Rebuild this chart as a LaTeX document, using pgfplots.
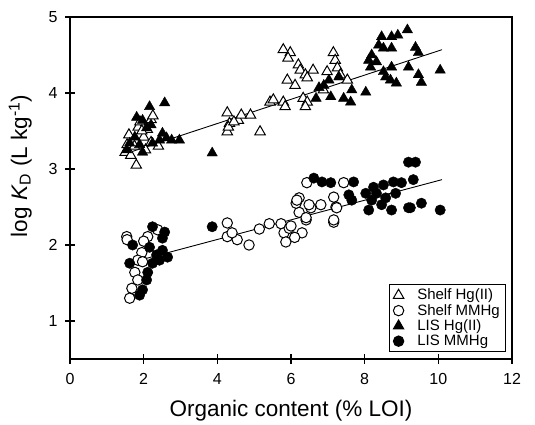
\documentclass[border=0pt]{standalone}
\usepackage{fontspec}
\setmainfont{Liberation Sans}
\usepackage{pgfplots}
\pgfplotsset{compat=1.18}
\begin{document}
\begin{tikzpicture}[x=1pt,y=1pt]
\begin{axis}[
  name=ax,
  scale only axis,
  width=442pt, height=342pt,
  at={(0,0)}, anchor=south west,
  xmin=0, xmax=12, ymin=0.5, ymax=5,
  xtick={0,2,...,12}, ytick={1,2,3,4,5},
  xtick pos=bottom, ytick pos=left,
  tick align=center, major tick length=10pt,
  axis line style={line width=1.2pt},
  every tick/.style={line width=1.2pt, black},
  ticklabel style={font=\fontsize{16}{19}\selectfont},
  xticklabel style={yshift=-6pt},
  yticklabel style={xshift=-4pt},
  /pgf/number format/assume math mode=true,
  xlabel={Organic content (\% LOI)},
  ylabel={log \textit{K}\textsubscript{D} (L kg\textsuperscript{-1})},
  label style={font=\fontsize{22.5}{26}\selectfont},
  xlabel style={yshift=-8pt},
  ylabel style={yshift=10pt, xshift=22pt},
  legend style={at={(rel axis cs:0.986,0.02)}, anchor=south east,
    draw=black, line width=1pt, font=\fontsize{15}{17}\selectfont,
    row sep=0pt, inner xsep=4pt, inner ysep=3pt,
    nodes={inner sep=1.5pt}},
  legend cell align=left,
]
% Shelf Hg(II)
\addplot[only marks, mark=triangle*, mark size=6pt, mark options={fill=white, draw=black, line width=1pt}] coordinates {
(1.5,3.22) (1.55,3.32) (1.6,3.45) (1.75,3.3) (1.8,3.05) (1.85,3.55) (2.0,3.42)
(2.05,3.25) (2.1,3.52) (2.2,3.65) (2.25,3.7) (2.2,3.35) (1.9,3.62) (1.65,3.18)
(2.4,3.3) (1.95,3.5)
(4.27,3.74) (4.33,3.6) (4.27,3.49) (4.57,3.64) (4.65,3.71) (4.9,3.71) (5.16,3.49)
(4.3,3.55) (4.45,3.62)
(5.43,3.88) (5.79,3.88) (5.84,3.82) (5.52,3.91)
(5.79,4.57) (5.98,4.53) (5.92,4.46) (6.2,4.37) (6.25,4.30) (6.39,4.24) (6.6,4.30)
(6.44,4.2) (5.9,4.17) (6.11,4.1) (7.15,4.53) (7.2,4.43) (6.98,4.28) (7.26,4.33)
(7.34,4.24) (7.53,4.17) (6.33,3.93) (6.44,3.88) (6.39,3.82) (6.88,4.04)
};
\addlegendentry{\hspace{12pt}Shelf Hg(II)}
% Shelf MMHg
\addplot[only marks, mark=*, mark size=5.2pt, mark options={fill=white, draw=black, line width=1pt}] coordinates {
(1.54,2.11) (2.11,2.11) (2.38,2.2) (1.95,1.9) (1.84,1.8) (1.76,1.64) (1.84,1.54)
(1.68,1.43) (1.62,1.3) (1.97,1.78) (1.55,2.07) (2.0,2.05)
(4.27,2.29) (4.27,2.11) (4.54,2.07) (4.86,2.0) (4.4,2.16) (5.14,2.21) (5.41,2.28)
(5.73,2.28) (5.81,2.16) (5.86,2.04) (5.95,2.22) (6.3,2.16) (6.41,2.33) (6.22,2.43)
(6.54,2.49) (6.81,2.53) (7.16,2.3) (6.14,2.55) (6.43,2.82) (7.43,2.82) (6.22,2.62)
(6.49,2.53) (7.22,2.5) (6.41,2.36) (7.16,2.33) (6.16,2.59) (7.16,2.63) (7.24,2.49)
(6.0,2.25) (6.1,2.1)
};
\addlegendentry{\hspace{12pt}Shelf MMHg}
% LIS Hg(II)
\addplot[only marks, mark=triangle*, mark size=6pt, mark options={fill=black, draw=black}] coordinates {
(2.57,3.87) (2.16,3.82) (1.81,3.68) (1.97,3.64) (2.2,3.58) (2.08,3.54) (2.51,3.47)
(2.76,3.38) (2.97,3.38) (2.43,3.38) (1.62,3.34) (1.89,3.32) (2.24,3.34) (1.54,3.25)
(1.97,3.22) (1.76,3.42) (2.62,3.41)
(3.86,3.21)
(9.16,4.83) (8.9,4.76) (8.73,4.74) (8.46,4.74) (8.38,4.63) (8.51,4.59) (8.73,4.59)
(9.38,4.6) (9.46,4.53) (8.19,4.5) (8.11,4.43) (8.32,4.41) (8.16,4.34) (8.73,4.34)
(9.19,4.34) (10.05,4.3) (8.51,4.28) (8.57,4.21) (8.7,4.17) (8.86,4.13) (9.46,4.24)
(9.54,4.14) (8.03,4.01)
(7.03,4.17) (6.76,4.07) (6.68,3.93) (7.08,3.95) (7.43,3.93) (7.62,3.88) (7.65,4.04)
(7.3,4.21) (6.89,4.1)
};
\addlegendentry{\hspace{12pt}LIS Hg(II)}
% LIS MMHg
\addplot[only marks, mark=*, mark size=5.2pt, mark options={fill=black, draw=black}] coordinates {
(2.24,2.24) (2.57,2.17) (2.51,2.09) (1.7,2.0) (2.16,1.97) (2.51,1.93) (2.65,1.84)
(2.43,1.8) (2.24,1.76) (1.62,1.76) (2.11,1.64) (2.08,1.54) (1.97,1.41) (1.89,1.34)
(2.35,1.87)
(3.86,2.24)
(6.62,2.88) (6.84,2.83) (7.08,2.82) (7.7,2.83) (9.19,3.09) (9.38,3.09) (9.32,2.86)
(8.78,2.83) (8.51,2.79) (8.24,2.76) (8.03,2.68) (7.57,2.66) (7.65,2.59) (8.19,2.59)
(8.57,2.62) (8.84,2.68) (9.54,2.55) (10.05,2.46) (9.19,2.49) (8.73,2.46) (8.11,2.46)
(8.46,2.53) (8.32,2.68) (9.0,2.82) (9.24,2.49)
};
\addlegendentry{\hspace{12pt}LIS MMHg}
% regression lines
\addplot[forget plot, black, line width=0.9pt] coordinates {(1.5,3.2) (10.1,4.57)};
\addplot[forget plot, black, line width=0.9pt] coordinates {(1.5,1.75) (10.1,2.86)};
\end{axis}
\path[draw=none] (-70,-66) rectangle (465,359);
\end{tikzpicture}
\end{document}
